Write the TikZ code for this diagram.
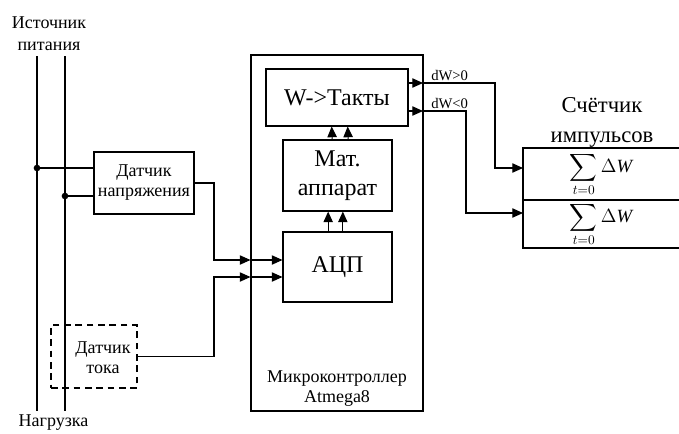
\documentclass[tikz,border=0pt]{standalone}
\usepackage{amsmath}
\usepackage{fontspec}
\setmainfont{Liberation Serif}
\usetikzlibrary{arrows.meta}

\begin{document}
\begin{tikzpicture}[x=0.75pt, y=-0.75pt, >={Triangle[length=8pt,width=7pt]},
                    every node/.style={font=\fontsize{13.5}{15}\selectfont},
                    blk/.style={draw, line width=0.8pt, inner sep=0pt},
                    wire/.style={line width=0.8pt},
                    sig/.style={line width=0.8pt, ->},
                    bigtxt/.style={font=\fontsize{18}{21.5}\selectfont},
                    sumtxt/.style={inner sep=0pt, font=\fontsize{14}{16}\selectfont}]

\useasboundingbox (0,0) rectangle (679,433);

%% ==== шины питания ==================================================
\coordinate (srcA)  at (37,56);
\coordinate (srcB)  at (65,56);
\coordinate (loadA) at (37,411);
\coordinate (loadB) at (65,411);
\draw[wire] (srcA) -- (loadA);
\draw[wire] (srcB) -- (loadB);

\node[align=center, font=\fontsize{13.5}{16.5}\selectfont] (src) at (49,34) {Источник\\питания};
\node (load) at (53.5,423) {Нагрузка};

%% ==== датчики =======================================================
\node[blk, minimum width=75pt, minimum height=46.5pt, align=center]
  (vsens) at (144,183) {Датчик\\напряжения};

\node[blk, dashed, dash pattern=on 5pt off 3.5pt,
      minimum width=64.5pt, minimum height=47.25pt] (isens) at (94,356.5) {};
\node[align=center] (isenst) at (103,357.5) {Датчик\\тока};

%% отводы от шин к датчику напряжения
\coordinate (tapA) at (37,168);
\coordinate (tapB) at (65,196);
\fill (tapA) circle[radius=2.5pt];
\fill (tapB) circle[radius=2.5pt];
\draw[wire] (tapA) -- (tapA -| vsens.west);
\draw[wire] (tapB) -- (tapB -| vsens.west);

%% ==== микроконтроллер ===============================================
\node[blk, minimum width=129pt, minimum height=267pt] (mcu) at (337,233) {};
\node[align=center] (mcut) at (337,389) {Микроконтроллер\\Atmega8};

\node[blk, bigtxt, minimum width=106.5pt, minimum height=42.75pt]
  (conv) at (337,97.5) {W->Такты};
\node[blk, bigtxt, minimum width=81.75pt, minimum height=53.25pt, align=center]
  (math) at (337.5,175.5) {Мат.\\аппарат};
\node[blk, bigtxt, minimum width=81.75pt, minimum height=52.5pt]
  (adc) at (337.5,267) {АЦП};

\draw[sig] ([xshift=-7pt]adc.north) -- ([xshift=-7pt]math.south);
\draw[sig] ([xshift=4pt]adc.north)  -- ([xshift=4pt]math.south);
\draw[sig] ([xshift=-4pt]math.north) -- ([xshift=-4pt]conv.south);
\draw[sig] ([xshift=8pt]math.north)  -- ([xshift=8pt]conv.south);

%% входы АЦП
\coordinate (vbend) at (214,260);
\coordinate (ibend) at (214,277);
\draw[sig] (vsens.east) -| (vbend) -- (vbend -| mcu.west);
\draw[sig] (vbend -| mcu.west) -- (vbend -| adc.west);
\draw[sig] (isens.east) -| (ibend) -- (ibend -| mcu.west);
\draw[sig] (ibend -| mcu.west) -- (ibend -| adc.west);

%% ==== счётчик импульсов =============================================
\node[align=center, font=\fontsize{17}{22}\selectfont] (cntt) at (602,122.5) {Счётчик\\импульсов};

%% рамка счётчика (правый край уходит за обрез)
\coordinate (cntNW) at (523,148);
\coordinate (cntW)  at (523,200);
\coordinate (cntSW) at (523,248);
\draw[wire] (cntNW -| 679,0) -- (cntNW) -- (cntSW) -- (cntSW -| 679,0);
\draw[wire] (cntW) -- (cntW -| 679,0);

\node[sumtxt] (cnt1) at (601,174.5) {$\displaystyle\sum_{t=0}\Delta\textit{W}$};
\node[sumtxt] (cnt2) at (601,224.5) {$\displaystyle\sum_{t=0}\Delta\textit{W}$};

%% выходы dW>0 и dW<0
\coordinate (outP)  at (423,83);
\coordinate (outN)  at (423,111);
\coordinate (bendP) at (495,168);
\coordinate (bendN) at (466,213);
\draw[sig] (conv.east |- outP) -- (outP);
\draw[sig] (conv.east |- outN) -- (outN);
\draw[sig] (outP) -| (bendP) -- (bendP -| cntNW);
\draw[sig] (outN) -| (bendN) -- (bendN -| cntNW);

\node[anchor=base west, inner sep=0pt, font=\fontsize{11}{13}\selectfont] (lblP) at (431,80) {dW>0};
\node[anchor=base west, inner sep=0pt, font=\fontsize{11}{13}\selectfont] (lblN) at (431,108) {dW<0};

\end{tikzpicture}
\end{document}
